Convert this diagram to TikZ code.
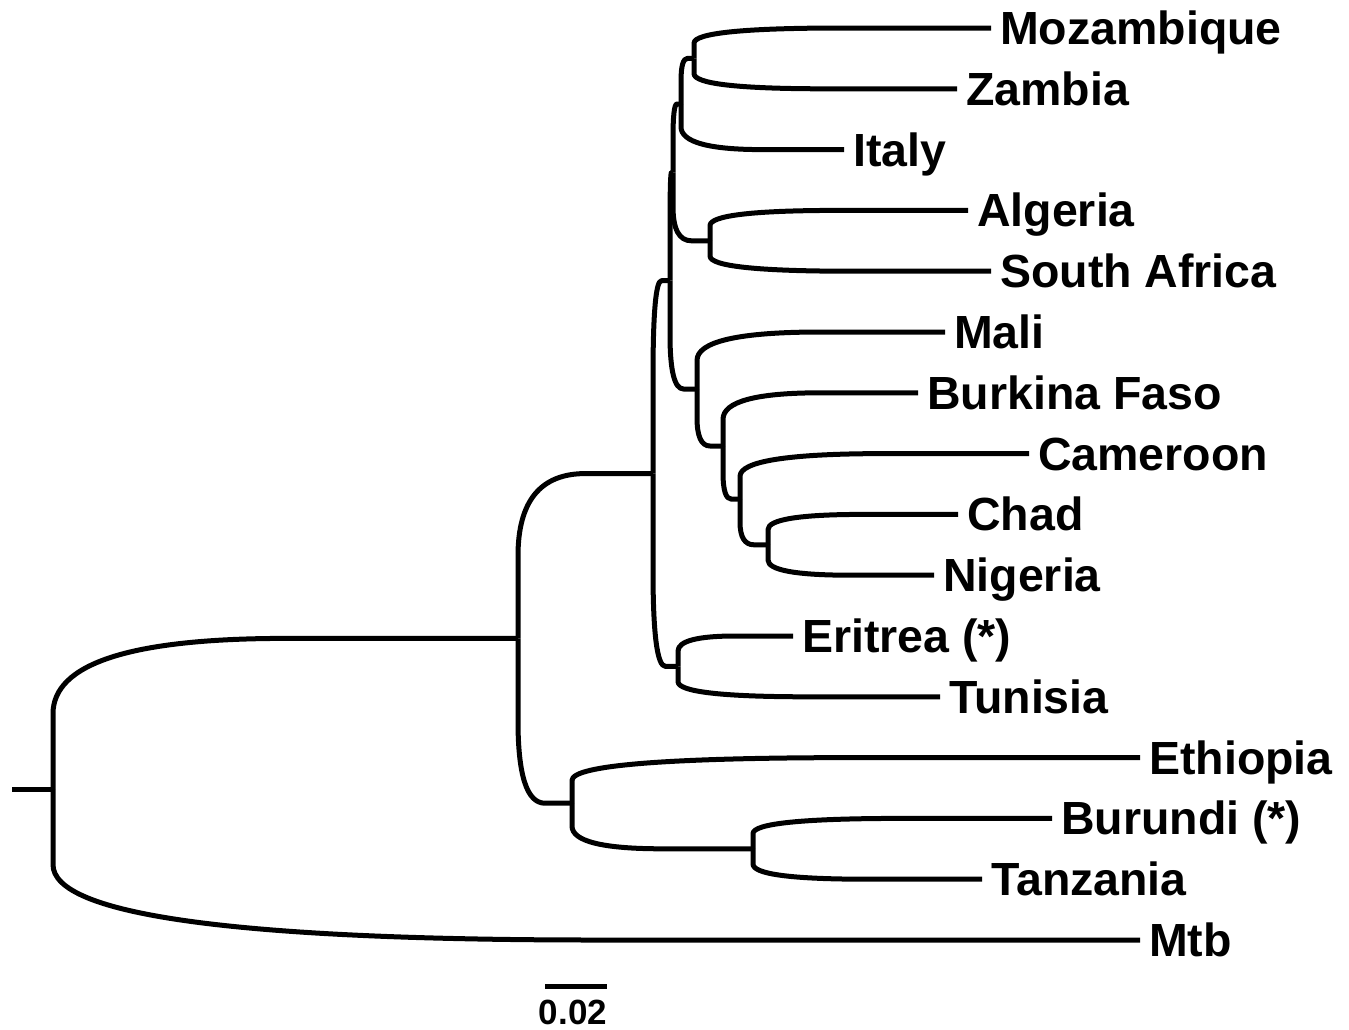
\documentclass[tikz,border=0pt]{standalone}
\usepackage{fontspec}
\setmainfont{Liberation Sans}
\usetikzlibrary{calc}
\tikzset{
  br/.style={line width=5pt, line cap=butt, line join=round},
  leaf/.style={anchor=west, inner xsep=9pt, inner ysep=0pt, text height=33pt, text depth=0pt,
    font=\fontsize{46.5}{50}\selectfont\bfseries},
  barlabel/.style={anchor=north, inner sep=0pt, text height=25pt, text depth=0pt,
    font=\fontsize{35}{38}\selectfont\bfseries},
}
% branch from parent #1 to child #2: vertical half, quadratic bend, horizontal rest
\newcommand\branch[2]{\draw[br] (#1) -- ($(#1)!0.5!(#1|-#2)$)
  .. controls ($(#1)!0.8333!(#1|-#2)$) and ($(#1|-#2)!0.1667!(#2)$) .. ($(#1|-#2)!0.5!(#2)$) -- (#2);}
\begin{document}
\begin{tikzpicture}[x=1pt,y=-1pt]
\useasboundingbox (0,0) rectangle (1349,1029);
% leaves
\node[leaf] (moz) at (991, 28) {Mozambique};
\node[leaf] (zam) at (957, 88.8) {Zambia};
\node[leaf] (ita) at (844, 149.6) {Italy};
\node[leaf] (alg) at (968, 210.4) {Algeria};
\node[leaf] (saf) at (991, 271.2) {South Africa};
\node[leaf] (mal) at (945, 332) {Mali};
\node[leaf] (bfa) at (918, 392.8) {Burkina Faso};
\node[leaf] (cam) at (1029, 453.6) {Cameroon};
\node[leaf] (cha) at (958, 514.4) {Chad};
\node[leaf] (nga) at (934, 575.2) {Nigeria};
\node[leaf] (eri) at (793, 636) {Eritrea (*)};
\node[leaf] (tun) at (940, 696.8) {Tunisia};
\node[leaf] (eth) at (1140, 757.6) {Ethiopia};
\node[leaf] (bur) at (1052, 818.4) {Burundi (*)};
\node[leaf] (tan) at (982, 879.2) {Tanzania};
\node[leaf] (mtb) at (1140, 940) {Mtb};
% internal nodes
\coordinate (stub) at (12, 789.2);
\coordinate (root) at (53, 789.2);
\coordinate (A) at (518, 638.4);
\coordinate (B) at (653, 473.55);
\coordinate (T) at (670, 280.7);
\coordinate (U) at (673, 172.4);
\coordinate (N2) at (681, 104);
\coordinate (N1) at (694, 58.4);
\coordinate (N4) at (710, 240.8);
\coordinate (F) at (697, 389);
\coordinate (G) at (723, 446);
\coordinate (H) at (740, 499.2);
\coordinate (I) at (768, 544.8);
\coordinate (J) at (678, 666.4);
\coordinate (C) at (572, 803.2);
\coordinate (D) at (753, 848.8);
% branches
\draw[br] (stub) -- (root);
\branch{root}{A}
\branch{root}{mtb.west}
\branch{A}{B}
\branch{A}{C}
\branch{C}{eth.west}
\branch{C}{D}
\branch{D}{bur.west}
\branch{D}{tan.west}
\branch{B}{T}
\branch{B}{J}
\branch{J}{eri.west}
\branch{J}{tun.west}
\branch{T}{U}
\branch{T}{F}
\branch{U}{N2}
\branch{U}{N4}
\branch{N2}{N1}
\branch{N2}{ita.west}
\branch{N1}{moz.west}
\branch{N1}{zam.west}
\branch{N4}{alg.west}
\branch{N4}{saf.west}
\branch{F}{mal.west}
\branch{F}{G}
\branch{G}{bfa.west}
\branch{G}{H}
\branch{H}{cam.west}
\branch{H}{I}
\branch{I}{cha.west}
\branch{I}{nga.west}
% scale bar
\coordinate (sbl) at (545, 986);
\coordinate (sbr) at (607, 986);
\draw[br] (sbl) -- (sbr);
\node[barlabel] (sbt) at (573, 999) {0.02};
\end{tikzpicture}
\end{document}
